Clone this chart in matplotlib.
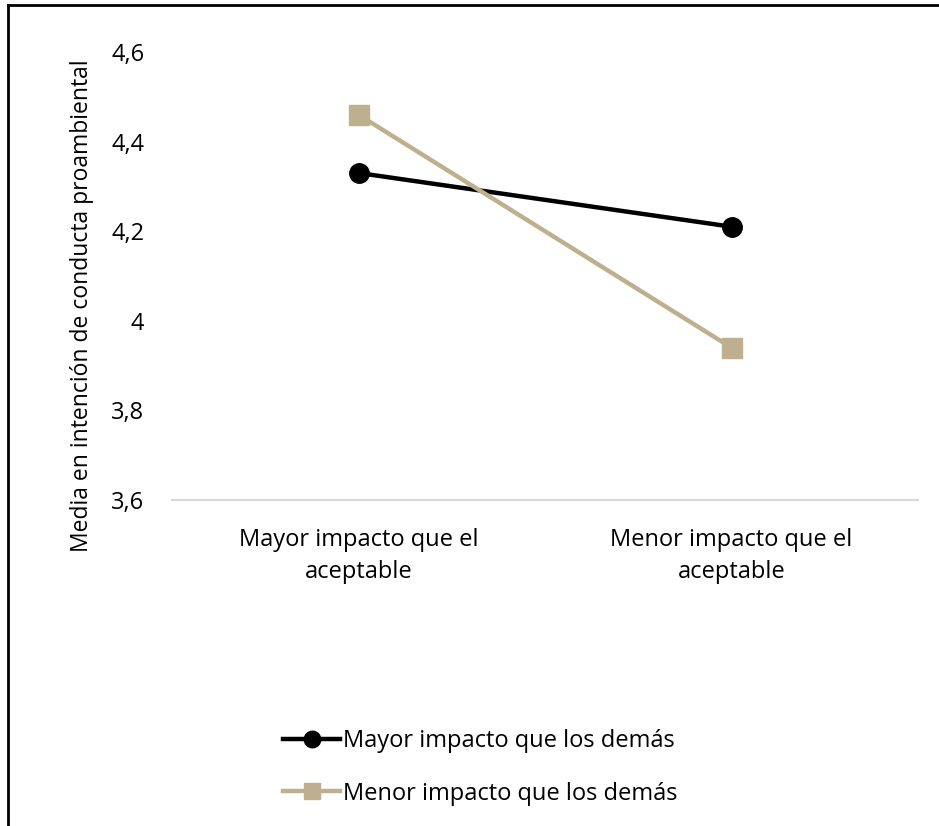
import numpy as np
from matplotlib import pyplot as plt
from matplotlib.lines import Line2D

# data
categorias = ["Mayor impacto que el\naceptable", "Menor impacto que el\naceptable"]
mayor_demas = [4.33, 4.21]
menor_demas = [4.46, 3.94]
yticks = [3.6, 3.8, 4.0, 4.2, 4.4, 4.6]
ytick_labels = ["3,6", "3,8", "4", "4,2", "4,4", "4,6"]

plt.rcParams['font.family'] = ['Open Sans', 'DejaVu Sans']

fig = plt.figure(figsize=(9.39, 8.26), dpi=100)
ax = fig.add_axes([172/939, 1 - 500/826, 746/939, 448/826])

x = np.arange(len(categorias))
ax.plot(x, mayor_demas, '-', marker='o', color='black', lw=3.2, ms=14,
        label="Mayor impacto que los demás")
ax.plot(x, menor_demas, '-', marker='s', color='#BEB08F', lw=3.2, ms=14,
        label="Menor impacto que los demás")

ax.set_xlim(-0.5, 1.5)
ax.set_ylim(3.6, 4.6)
ax.set_xticks(x)
ax.set_xticklabels(categorias, fontsize=17, linespacing=1.45)
ax.set_yticks(yticks)
ax.set_yticklabels(ytick_labels, fontsize=17)
ax.tick_params(axis='both', length=0)
ax.tick_params(axis='x', pad=20)
ax.tick_params(axis='y', pad=20)

for s in ['top', 'right', 'left']:
    ax.spines[s].set_visible(False)
ax.spines['bottom'].set_color('#D9D9D9')
ax.spines['bottom'].set_linewidth(1.5)

ax.set_ylabel("Media en intención de conducta proambiental", fontsize=16.5)
ax.yaxis.set_label_coords(-78/746, 0.5 - (306 - 276)/448)

ax.legend(loc='upper left', bbox_to_anchor=(262/939, 1 - 708/826),
          bbox_transform=fig.transFigure, frameon=False, fontsize=17,
          handlelength=2.4, handletextpad=0.15, labelspacing=1.2,
          markerscale=0.85)

# outer frame (only left and top visible)
fig.add_artist(Line2D([8/939, 8/939], [0, 1 - 5/826], color='black', lw=2,
                      transform=fig.transFigure))
fig.add_artist(Line2D([8/939, 1], [1 - 5/826, 1 - 5/826], color='black', lw=2,
                      transform=fig.transFigure))

fig.savefig("out.png", dpi=100)
